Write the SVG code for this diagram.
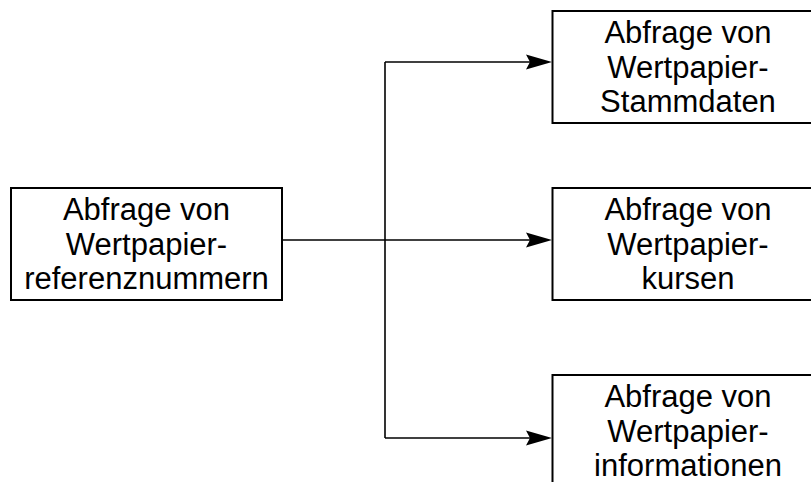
<svg xmlns="http://www.w3.org/2000/svg" width="811" height="482" viewBox="0 0 811 482">
<style>
.box{fill:#fff;stroke:#000;stroke-width:2}
.lbl{font-family:"Liberation Sans",Arial,sans-serif;font-size:31px;fill:#000;text-anchor:middle}
.con{fill:none;stroke:#000;stroke-width:1.6}
</style>
<defs>
<marker id="arr" markerUnits="userSpaceOnUse" viewBox="0 0 26 16" refX="14" refY="8" markerWidth="26" markerHeight="16" orient="auto">
<path d="M0,0.5 L26,8 L0,15.5 L4,8 Z" fill="#000"/>
</marker>
</defs>
<rect width="811" height="482" fill="#fff"/>
<g id="connectors">
<path class="con" d="M282,240 H540" marker-end="url(#arr)"/>
<path class="con" d="M385,62 V438"/>
<path class="con" d="M385,62 H540" marker-end="url(#arr)"/>
<path class="con" d="M385,438 H540" marker-end="url(#arr)"/>
</g>
<g id="n-referenz">
<rect class="box" x="11" y="188" width="271" height="112"/>
<text class="lbl" x="146.5" y="220"><tspan x="146.5">Abfrage von</tspan><tspan x="146.5" dy="34.5">Wertpapier-</tspan><tspan x="146.5" dy="34.5">referenznummern</tspan></text>
</g>
<g id="n-stammdaten">
<rect class="box" x="552.5" y="11" width="271" height="112"/>
<text class="lbl" x="688" y="43"><tspan x="688">Abfrage von</tspan><tspan x="688" dy="34.5">Wertpapier-</tspan><tspan x="688" dy="34.5">Stammdaten</tspan></text>
</g>
<g id="n-kurse">
<rect class="box" x="552.5" y="188" width="271" height="112"/>
<text class="lbl" x="688" y="220"><tspan x="688">Abfrage von</tspan><tspan x="688" dy="34.5">Wertpapier-</tspan><tspan x="688" dy="34.5">kursen</tspan></text>
</g>
<g id="n-informationen">
<rect class="box" x="552.5" y="375" width="271" height="112"/>
<text class="lbl" x="688" y="407"><tspan x="688">Abfrage von</tspan><tspan x="688" dy="34.5">Wertpapier-</tspan><tspan x="688" dy="34.5">informationen</tspan></text>
</g>
</svg>
